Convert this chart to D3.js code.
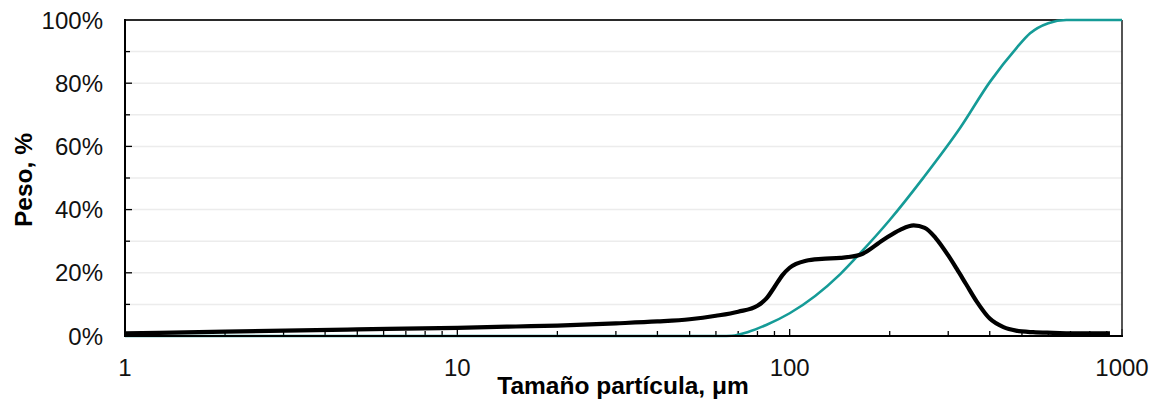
<!DOCTYPE html>
<html><head><meta charset="utf-8">
<script src="https://cdn.jsdelivr.net/npm/d3@7"></script>
<style>body{margin:0;background:#fff}svg{display:block}text{font-family:"Liberation Sans",Arial,sans-serif}</style>
</head><body>
<svg id="c" width="1163" height="409"></svg>
<script>
const sizes = [1, 2, 5, 10, 15, 20, 30, 40, 50, 60, 70, 80, 85, 90, 95, 100, 112, 125, 142, 163, 191, 215, 236, 255, 275, 300, 318, 340, 366, 400, 440, 480, 540, 620, 750, 920];
const distribution = [0.8, 1.4, 2.1, 2.6, 3.0, 3.3, 4.0, 4.6, 5.3, 6.4, 7.7, 9.6, 11.8, 15.5, 19.2, 21.6, 23.8, 24.4, 24.7, 25.7, 30.4, 33.6, 35.0, 34.2, 31.0, 25.5, 21.3, 16.3, 10.8, 5.5, 2.8, 1.7, 1.2, 1.0, 0.8, 0.8];
const cumSizes = [1, 10, 40, 62, 67, 75, 85, 100, 142, 163, 200, 253, 326, 401, 482, 529, 600, 680, 1000];
const cumulative = [0, 0, 0, 0, 0.1, 1.3, 3.5, 7.2, 19.6, 26.2, 36.7, 50.2, 65.9, 80.5, 91.2, 95.8, 99.0, 100, 100];
const xTickValues = [1, 10, 100, 1000];
const yTickValues = [0, 20, 40, 60, 80, 100];

const svg = d3.select("#c");
const L = 125, R = 1122, T = 20, B = 336;
const x = d3.scaleLog().domain([1, 1000]).range([L, R]);
const y = d3.scaleLinear().domain([0, 100]).range([B, T]);

// gridlines every 10%
const gridVals = d3.range(10, 100, 10);
svg.append("g").selectAll("line").data(gridVals).join("line")
  .attr("x1", L).attr("x2", R).attr("y1", d => y(d)).attr("y2", d => y(d))
  .attr("stroke", "#ececec").attr("stroke-width", 1.5);

// y ticks (inward)
svg.append("g").selectAll("line").data(d3.range(0, 101, 10)).join("line")
  .attr("x1", L).attr("x2", d => L + (d % 20 === 0 ? 7 : 5))
  .attr("y1", d => y(d)).attr("y2", d => y(d))
  .attr("stroke", "#000").attr("stroke-width", 1.3);

// x minor ticks
const minor = [];
for (let e = 0; e < 3; e++) for (let m = 2; m <= 9; m++) minor.push(m * Math.pow(10, e));
svg.append("g").selectAll("line").data(minor).join("line")
  .attr("x1", d => x(d)).attr("x2", d => x(d)).attr("y1", B).attr("y2", B - 5)
  .attr("stroke", "#000").attr("stroke-width", 1.3);
svg.append("g").selectAll("line").data(xTickValues).join("line")
  .attr("x1", d => x(d)).attr("x2", d => x(d)).attr("y1", B).attr("y2", B - 7)
  .attr("stroke", "#000").attr("stroke-width", 1.3);

// frame
svg.append("line").attr("x1", L).attr("x2", R).attr("y1", T).attr("y2", T).attr("stroke", "#2a2a2a").attr("stroke-width", 1.8);
svg.append("line").attr("x1", R).attr("x2", R).attr("y1", T).attr("y2", B).attr("stroke", "#2a2a2a").attr("stroke-width", 1.6);

// lines
const lineGen = d3.line().x(d => x(d[0])).y(d => y(d[1])).curve(d3.curveMonotoneX);
svg.append("path").datum(cumSizes.map((s, i) => [s, cumulative[i]]))
  .attr("d", lineGen).attr("fill", "none").attr("stroke", "#159b97").attr("stroke-width", 2.6);
svg.append("path").datum(sizes.map((s, i) => [s, distribution[i]]))
  .attr("d", lineGen).attr("fill", "none").attr("stroke", "#000").attr("stroke-width", 4.2)
  .attr("stroke-linejoin", "round");

// axes lines
svg.append("line").attr("x1", L).attr("x2", L).attr("y1", T - 1).attr("y2", B + 1).attr("stroke", "#000").attr("stroke-width", 2);
svg.append("line").attr("x1", L - 1).attr("x2", R + 1).attr("y1", B).attr("y2", B).attr("stroke", "#000").attr("stroke-width", 2);

// tick labels
svg.append("g").selectAll("text").data(yTickValues).join("text")
  .attr("x", 103).attr("y", d => y(d)).attr("dy", "0.36em").attr("text-anchor", "end")
  .attr("font-size", 24).attr("fill", "#111").text(d => d + "%");
svg.append("g").selectAll("text").data(xTickValues).join("text")
  .attr("x", d => x(d)).attr("y", 376).attr("text-anchor", "middle")
  .attr("font-size", 24).attr("fill", "#111").text(d => d);

// titles
svg.append("text").attr("x", 623).attr("y", 394).attr("text-anchor", "middle")
  .attr("font-size", 24.5).attr("font-weight", "bold").text("Tamaño partícula, μm");
svg.append("text").attr("transform", "translate(32,180) rotate(-90)").attr("text-anchor", "middle")
  .attr("font-size", 24.5).attr("font-weight", "bold").text("Peso, %");
</script>
</body></html>
